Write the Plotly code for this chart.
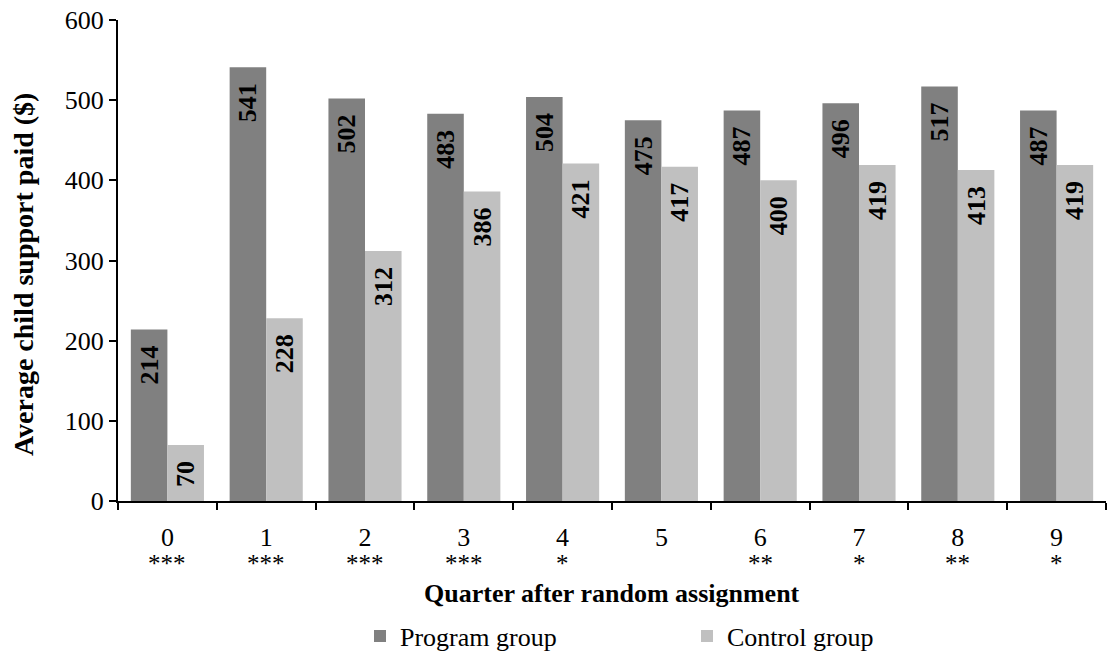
import plotly.graph_objects as go

quarters = ["0", "1", "2", "3", "4", "5", "6", "7", "8", "9"]
stars = ["***", "***", "***", "***", "*", "", "**", "*", "**", "*"]
program = [214, 541, 502, 483, 504, 475, 487, 496, 517, 487]
control = [70, 228, 312, 386, 421, 417, 400, 419, 413, 419]

FONT = "Liberation Serif"
PAD = "\u00a0\u00a0"

def bar(name, vals, color):
    return go.Bar(
        x=quarters, y=vals, name=name,
        marker=dict(color=color, line=dict(width=0)),
        text=[str(v) + PAD for v in vals], textposition="inside",
        insidetextanchor="end", textangle=-90, constraintext="none",
        textfont=dict(family=FONT, size=26, color="black", weight="bold"),
    )

fig = go.Figure()
fig.add_trace(bar("Program group", program, "#808080"))
fig.add_trace(bar("Control group", control, "#C0C0C0"))

# significance stars under each quarter label
for q, s in zip(quarters, stars):
    if s:
        fig.add_annotation(x=q, xref="x", y=-0.1, yref="paper", yanchor="top",
                           text=s, showarrow=False, borderpad=0,
                           font=dict(family=FONT, size=25, color="black"))

fig.add_annotation(x=0.5, xref="paper", y=-0.161, yref="paper", yanchor="top",
                   text="<b>Quarter after random assignment</b>", showarrow=False, borderpad=0,
                   font=dict(family=FONT, size=26, color="black"))
fig.add_annotation(x=-0.095, xref="paper", y=0.472, yref="paper",
                   xanchor="center", yanchor="middle", textangle=-90,
                   text="<b>Average child support paid ($)</b>", showarrow=False,
                   font=dict(family=FONT, size=28, color="black"))

fig.update_layout(
    width=1115, height=656,
    margin=dict(l=118, r=9, t=20, b=155, autoexpand=False),
    paper_bgcolor="white", plot_bgcolor="white",
    font=dict(family=FONT, size=26, color="black"),
    barmode="group", bargap=0.26, bargroupgap=0,
    showlegend=True,
    legend=dict(orientation="h", x=(360 - 118) / 988, xanchor="left", y=-0.281, yanchor="middle",
                entrywidth=282, entrywidthmode="pixels", itemclick=False,
                font=dict(family=FONT, size=26), traceorder="normal"),
    xaxis=dict(
        type="category", tickmode="array", tickvals=quarters, ticktext=quarters,
        tickson="boundaries", ticks="outside", ticklen=7, tickwidth=2, tickcolor="black",
        showline=True, linecolor="black", linewidth=2, showgrid=False,
        automargin=False, ticklabelstandoff=12,
        tickfont=dict(family=FONT, size=26),
    ),
    yaxis=dict(
        range=[0, 600], dtick=100, ticks="outside", ticklen=7, tickwidth=2, tickcolor="black",
        showline=True, linecolor="black", linewidth=2, showgrid=False, zeroline=False,
        automargin=False,
        tickfont=dict(family=FONT, size=26),
    ),
)

fig.write_html("out.html", config={"displayModeBar": False},
               post_script="document.body.style.margin='0';")
